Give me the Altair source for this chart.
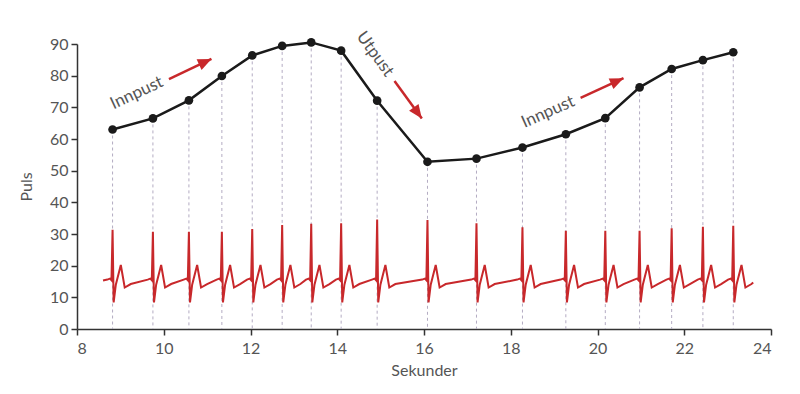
import altair as alt
import pandas as pd

# --- data ---
beat_t = [8.82, 9.75, 10.58, 11.34, 12.04, 12.73, 13.40, 14.09, 14.92,
          16.08, 17.21, 18.27, 19.27, 20.18, 20.97, 21.71, 22.43, 23.13]
pulse = [63.0, 66.5, 72.2, 79.9, 86.4, 89.4, 90.5, 87.9, 72.1,
         52.8, 53.8, 57.3, 61.5, 66.6, 76.3, 82.1, 84.9, 87.4]
r_peak = [31.3, 30.7, 30.7, 30.7, 31.6, 32.8, 33.2, 33.4, 34.6,
          34.4, 33.4, 32.1, 31.0, 31.0, 31.0, 31.8, 32.3, 32.6]

# ECG waveform template around each R peak (seconds relative to R, value)
after_dt = [0.0, 0.025, 0.075, 0.19, 0.28, 0.42]
after_v = [None, 8.4, 14.0, 20.2, 13.1, 14.2]   # None -> R peak height
before_dt = [-0.12, -0.06, -0.025]
before_v = [15.6, 15.9, 15.4]
ecg_start = (8.60, 15.3)
ecg_end = (23.59, 14.7)

labels = ["Innpust", "Utpust", "Innpust"]
label_x = [9.38, 14.87, 18.86]
label_y = [74.5, 86.8, 68.5]
label_angle = [335, 54, 336]

arrow_x = [10.12, 15.32, 19.61]
arrow_y = [78.9, 78.3, 73.0]
arrow_x2 = [11.10, 15.95, 20.60]
arrow_y2 = [85.3, 66.5, 79.2]
arrow_angle = [65, 144, 66]

x_ticks = [8, 10, 12, 14, 16, 18, 20, 22, 24]
y_ticks = [0, 10, 20, 30, 40, 50, 60, 70, 80, 90]

# --- tables ---
pulse_df = pd.DataFrame({"t": beat_t, "puls": pulse})

ecg_rows = [{"t": ecg_start[0], "v": ecg_start[1]}]
for t, r in zip(beat_t, r_peak):
    for dt, v in zip(before_dt, before_v):
        ecg_rows.append({"t": t + dt, "v": v})
    for dt, v in zip(after_dt, after_v):
        ecg_rows.append({"t": t + dt, "v": r if v is None else v})
ecg_rows.append({"t": ecg_end[0], "v": ecg_end[1]})
ecg_df = pd.DataFrame(ecg_rows)
ecg_df["o"] = range(len(ecg_df))

lab_df = pd.DataFrame({"txt": labels, "x": label_x, "y": label_y, "a": label_angle})
arr_df = pd.DataFrame({"x": arrow_x, "y": arrow_y, "x2": arrow_x2, "y2": arrow_y2,
                       "a": arrow_angle})

FONT = "Lato"
GREY = "#555555"
RED = "#c8282b"

xscale = alt.Scale(domain=[8, 24], nice=False)
yscale = alt.Scale(domain=[0, 90], nice=False)

xax = alt.Axis(values=x_ticks, title="Sekunder", grid=False, tickSize=6,
               labelPadding=5, titlePadding=6, labelFontSize=16,
               titleFontSize=16, labelColor=GREY, titleColor=GREY,
               domainColor="#333333", tickColor="#333333", domainWidth=1.5,
               tickWidth=1.5, labelFont=FONT, titleFont=FONT,
               titleFontWeight="normal", labelOverlap=False)
yax = alt.Axis(values=y_ticks, title="Puls", grid=False, tickSize=6,
               labelPadding=3, titlePadding=15, labelFontSize=16,
               titleFontSize=16, labelColor=GREY, titleColor=GREY,
               domainColor="#333333", tickColor="#333333", domainWidth=1.5,
               tickWidth=1.5, labelFont=FONT, titleFont=FONT,
               titleFontWeight="normal", labelOverlap=False)


def X(f):
    return alt.X(f, scale=xscale, axis=xax)


def Y(f):
    return alt.Y(f, scale=yscale, axis=yax)


drops = alt.Chart(pulse_df).mark_rule(color="#b3abc2", strokeWidth=1,
                                      strokeDash=[3, 3]).encode(
    x=X("t:Q"), y=Y("puls:Q"), y2=alt.datum(0),
)

ecg = alt.Chart(ecg_df).mark_line(color=RED, strokeWidth=2,
                                  strokeJoin="miter").encode(
    x=X("t:Q"), y=Y("v:Q"), order="o:Q",
)

line = alt.Chart(pulse_df).mark_line(color="#1a1a1a", strokeWidth=2.5).encode(
    x=X("t:Q"), y=Y("puls:Q"),
)
pts = alt.Chart(pulse_df).mark_point(filled=True, color="#1a1a1a", size=75,
                                     opacity=1).encode(
    x=X("t:Q"), y=Y("puls:Q"),
)

arr_lines = alt.Chart(arr_df).mark_rule(color=RED, strokeWidth=2.5).encode(
    x=X("x:Q"), y=Y("y:Q"), x2="x2:Q", y2="y2:Q",
)
arr_heads = alt.Chart(arr_df).mark_point(
    shape="M0,0L0.6,1.4L-0.6,1.4Z", filled=True, color=RED, size=380,
    opacity=1).encode(
    x=X("x2:Q"), y=Y("y2:Q"),
    angle=alt.Angle("a:Q", scale=None),
)

texts = alt.Chart(lab_df).mark_text(fontSize=17, font=FONT, color=GREY,
                                    align="center", baseline="middle").encode(
    x=X("x:Q"), y=Y("y:Q"), text="txt:N",
    angle=alt.Angle("a:Q", scale=None),
)

chart = alt.layer(drops, ecg, line, pts, arr_lines, arr_heads, texts).properties(
    width=694, height=285,
    autosize=alt.AutoSizeParams(type="none"),
    padding={"left": 69, "top": 36, "right": 21, "bottom": 57},
).configure(background="white", view=alt.ViewConfig(stroke=None))

chart.save("out.html", embed_options={"renderer": "svg", "actions": False})
